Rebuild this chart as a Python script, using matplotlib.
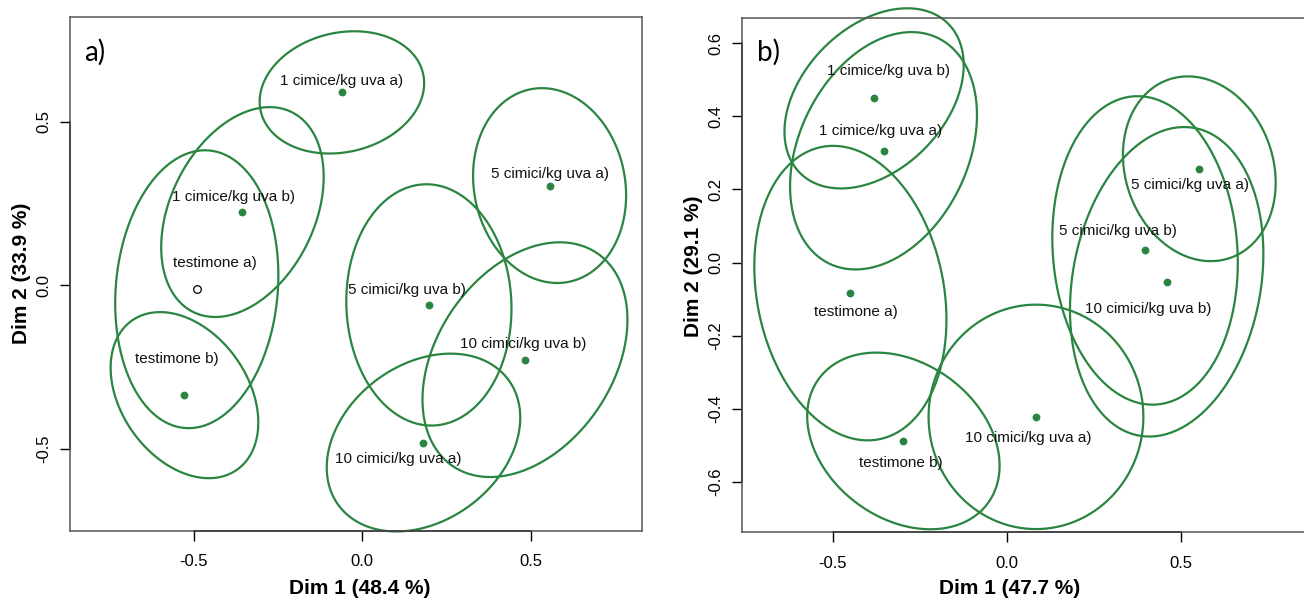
import numpy as np
import matplotlib
matplotlib.use('Agg')
import matplotlib.pyplot as plt
from matplotlib.patches import Polygon
from matplotlib.transforms import blended_transform_factory

plt.rcParams['font.family'] = ['Liberation Sans', 'DejaVu Sans']

categories = ['testimone a)', 'testimone b)',
              '1 cimice/kg uva a)', '1 cimice/kg uva b)',
              '5 cimici/kg uva a)', '5 cimici/kg uva b)',
              '10 cimici/kg uva a)', '10 cimici/kg uva b)']

# panel a) -- category coordinates and confidence ellipses
dim1_a = [-0.4905, -0.527, -0.060, -0.355, 0.556, 0.198, 0.182, 0.483]
dim2_a = [-0.012, -0.336, 0.590, 0.224, 0.305, -0.060, -0.481, -0.2275]
ell_sx_a = [0.242, 0.219, 0.244, 0.241, 0.227, 0.245, 0.287, 0.304]
ell_sy_a = [0.425, 0.254, 0.187, 0.321, 0.298, 0.369, 0.272, 0.359]
ell_rho_a = [0.10, -0.33, 0.15, 0.335, -0.10, -0.03, 0.28, 0.34]

# panel b)
dim1_b = [-0.449, -0.297, -0.354, -0.381, 0.5516, 0.396, 0.0832, 0.458]
dim2_b = [-0.0838, -0.4886, 0.306, 0.4495, 0.2567, 0.0331, -0.4227, -0.0528]
ell_sx_b = [0.2755, 0.2759, 0.268, 0.257, 0.219, 0.266, 0.308, 0.2773]
ell_sy_b = [0.4033, 0.2419, 0.325, 0.2467, 0.253, 0.4224, 0.3073, 0.4238]
ell_rho_b = [-0.18, -0.28, 0.30, 0.37, -0.15, -0.08, 0.0, 0.18]

xticks_a = [-0.5, 0.0, 0.5]
yticks_a = [-0.5, 0.0, 0.5]
xticks_b = [-0.5, 0.0, 0.5]
yticks_b = [-0.6, -0.4, -0.2, 0.0, 0.2, 0.4, 0.6]

# label offsets in pixels (dx, dy up) as placed in the original
lab_off_a = [(18, 26), (-8, 36), (0, 11), (-9, 15),
             (0, 12), (-22, 15), (-25, -16), (-2, 16)]
lab_off_b = [(5, -19), (-3, -22), (-3, 20), (14, 27),
             (-9, -16), (-27, 19), (-8, -21), (-18, -27)]

GREEN = '#2a8540'


def ellipse(cx, cy, sx, sy, rho, n=120):
    t = np.linspace(0, 2 * np.pi, n, endpoint=False)
    x = cx + sx * np.cos(t)
    y = cy + sy * (rho * np.cos(t) + np.sqrt(1 - rho ** 2) * np.sin(t))
    return np.column_stack([x, y])


def r_axes(ax, xticks, yticks):
    for s in ax.spines.values():
        s.set_color('#555555')
        s.set_linewidth(1.1)
    ax.set_xticks(xticks)
    ax.set_yticks(yticks)
    ax.set_xticklabels([f'{v:.1f}' for v in xticks])
    ax.set_yticklabels([f'{v:.1f}' for v in yticks], rotation=90, va='center')
    ax.tick_params(axis='x', length=7, width=1, pad=10, labelsize=12)
    ax.tick_params(axis='y', length=7, width=1, pad=6, labelsize=12)
    tx = blended_transform_factory(ax.transData, ax.transAxes)
    ty = blended_transform_factory(ax.transAxes, ax.transData)
    ax.plot([xticks[0], xticks[-1]], [0, 0], color='#111111', lw=1.3,
            transform=tx, clip_on=False)
    ax.plot([0, 0], [yticks[0], yticks[-1]], color='#111111', lw=1.3,
            transform=ty, clip_on=False)


def panel(ax, xs, ys, sx, sy, rho, offsets, open_first):
    for i, name in enumerate(categories):
        pts = ellipse(xs[i], ys[i], sx[i], sy[i], rho[i])
        ax.add_patch(Polygon(pts, closed=True, fill=False, edgecolor=GREEN,
                             lw=1.6, clip_on=False))
    for i, name in enumerate(categories):
        if open_first and i == 0:
            ax.plot(xs[i], ys[i], 'o', ms=5.5, mfc='white', mec='black', mew=0.9)
        else:
            ax.plot(xs[i], ys[i], 'o', ms=4.6, color=GREEN)
        ax.annotate(name, (xs[i], ys[i]), xytext=offsets[i],
                    textcoords='offset pixels', ha='center', va='center',
                    fontsize=11, color='#111111')


fig = plt.figure(figsize=(13.04, 6.01), dpi=100)
ax_a = fig.add_axes([0.0533, 0.1173, 0.4390, 0.8549])
ax_b = fig.add_axes([0.5687, 0.1148, 0.4359, 0.8552])

panel(ax_a, dim1_a, dim2_a, ell_sx_a, ell_sy_a, ell_rho_a, lab_off_a, True)
panel(ax_b, dim1_b, dim2_b, ell_sx_b, ell_sy_b, ell_rho_b, lab_off_b, False)

ax_a.set_xlim(-0.868, 0.830)
ax_a.set_ylim(-0.750, 0.8215)
ax_b.set_xlim(-0.761, 0.869)
ax_b.set_ylim(-0.738, 0.6695)

r_axes(ax_a, xticks_a, yticks_a)
r_axes(ax_b, xticks_b, yticks_b)

ax_a.set_xlabel('Dim 1 (48.4 %)', fontsize=15, fontweight='bold')
ax_a.set_ylabel('Dim 2 (33.9 %)', fontsize=15, fontweight='bold')
ax_b.set_xlabel('Dim 1 (47.7 %)', fontsize=15, fontweight='bold')
ax_b.set_ylabel('Dim 2 (29.1 %)', fontsize=15, fontweight='bold')
ax_a.xaxis.set_label_coords(0.507, -0.112)
ax_a.yaxis.set_label_coords(-0.0847, 0.5)
ax_b.xaxis.set_label_coords(0.472, -0.109)
ax_b.yaxis.set_label_coords(-0.0845, 0.5175)
for ax in (ax_a, ax_b):
    ax.xaxis.label.set_va('center')
    ax.yaxis.label.set_va('center')

ax_a.text(0.0253, 0.931, 'a)', transform=ax_a.transAxes, ha='left',
          va='center', fontsize=20, family=['Lato', 'DejaVu Sans'])
ax_b.text(0.0266, 0.934, 'b)', transform=ax_b.transAxes, ha='left',
          va='center', fontsize=20, family=['Lato', 'DejaVu Sans'])

fig.savefig('out.png', dpi=100)
